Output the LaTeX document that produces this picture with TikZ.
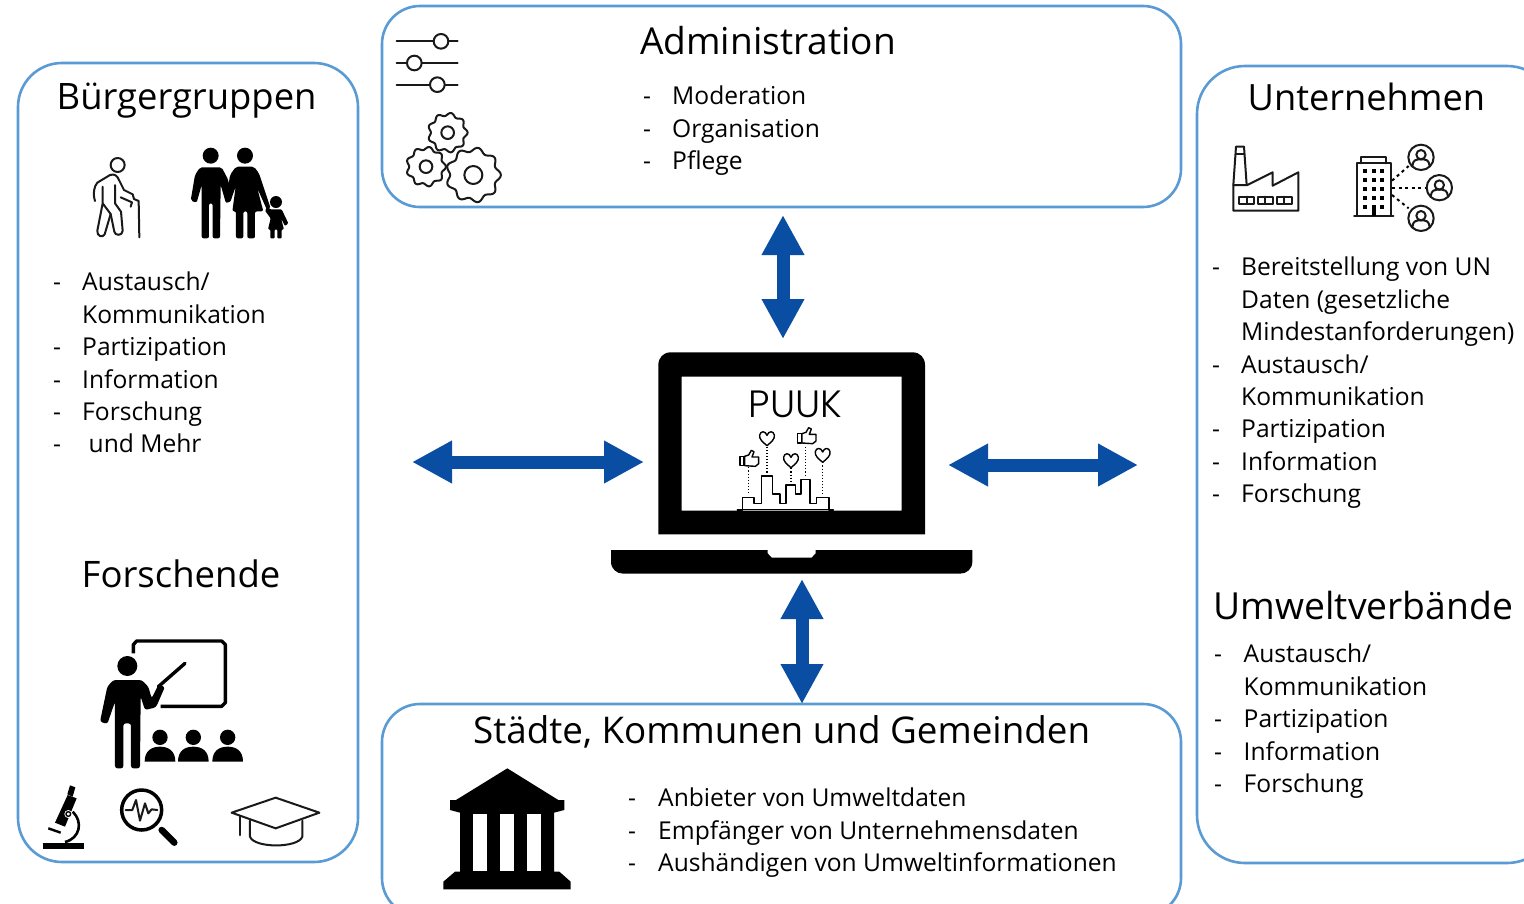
\documentclass[tikz,border=0pt]{standalone}
\usepackage{fontspec}
\setmainfont{Open Sans}
\newfontfamily\puukfont{Poppins Light}
\usetikzlibrary{arrows.meta}
\definecolor{panelblue}{HTML}{5B9BD5}
\definecolor{arrowblue}{HTML}{0A4EA3}
\newcommand{\tsize}[1]{\fontsize{#1}{44}\selectfont}
\tikzset{
  panel/.style={draw=panelblue,line width=2.6pt,inner sep=0pt},
  bodytext/.style={anchor=base west,inner sep=0pt,text=black,font=\fontsize{24.6}{30}\selectfont},
  titletext/.style={anchor=base west,inner sep=0pt,text=black},
  blockarrow/.style={draw=arrowblue,line width=13pt,{Triangle[length=40pt,width=40pt]}-{Triangle[length=40pt,width=40pt]},arrowblue},
  iconline/.style={draw=black!90,line width=2pt,line join=round,line cap=round},
  iconthin/.style={draw=black,line width=1.4pt,line join=round,line cap=round},
  zoomA/.style={shift={(#1)},scale=1/3}
}
\newcommand{\gearicon}[5]{% cx cy R hole teeth
  \draw[iconline,domain=0:360,samples=181,smooth] plot ({#1+#3*(1+.085*cos(#5*\x))*cos(\x)},{#2+#3*(1+.085*cos(#5*\x))*sin(\x)}) -- cycle;
  \draw[iconline] (#1,#2) circle (#4);}
\newcommand{\hearticon}[2]{%
  \draw[iconthin] (#1,#2+22) .. controls (#1-14,#2+10) and (#1-24,#2+2) .. (#1-22,#2-10) .. controls (#1-20,#2-22) and (#1-5,#2-24) .. (#1,#2-9) .. controls (#1+5,#2-24) and (#1+20,#2-22) .. (#1+22,#2-10) .. controls (#1+24,#2+2) and (#1+14,#2+10) .. (#1,#2+22) -- cycle;}
\newcommand{\thumbicon}[2]{%
  \draw[iconthin] (#1-28,#2-12) rectangle (#1-16,#2+16);
  \draw[iconthin] (#1-14,#2-12) -- (#1-2,#2-16) -- (#1+6,#2-30) -- (#1+14,#2-26) -- (#1+8,#2-10) -- (#1+28,#2-10) -- (#1+28,#2+10) -- (#1+18,#2+18) -- (#1-14,#2+16) -- cycle;}
\newcommand{\usericon}[2]{%
  \draw[iconline] (#1,#2) circle (38);
  \draw[iconline] (#1,#2-8) circle (14);
  \draw[iconline] (#1-26,#2+26) .. controls (#1-24,#2+8) and (#1-14,#2+6) .. (#1-8,#2+6) -- (#1+8,#2+6) .. controls (#1+14,#2+6) and (#1+24,#2+8) .. (#1+26,#2+26);}
\newcommand{\audience}[2]{%
  \fill (#1,#2) circle (23);
  \fill (#1-46,#2+73) .. controls (#1-46,#2+40) and (#1-25,#2+28) .. (#1,#2+28) .. controls (#1+25,#2+28) and (#1+46,#2+40) .. (#1+46,#2+73) -- cycle;}
\begin{document}
\begin{tikzpicture}[x=1pt,y=-1pt]
\useasboundingbox (0,0) rectangle (1524,903);
\clip (0,0) rectangle (1524,903);
\fill[white] (0,0) rectangle (1524,903);

% panels
\node[panel,rounded corners=44pt,minimum width=340pt,minimum height=799pt] (buerger) at (188,462.5) {};
\node[panel,rounded corners=38pt,minimum width=799pt,minimum height=201pt] (admin) at (781.5,106.5) {};
\node[panel,rounded corners=48pt,minimum width=358pt,minimum height=797pt] (unternehmen) at (1376,464.5) {};
\node[panel,rounded corners=38pt,minimum width=799pt,minimum height=212pt] (staedte) at (781.5,810) {};

% titles
\node[titletext,font=\tsize{36.4}] (tBuerger) at (56.5,109) {Bürgergruppen};
\node[titletext,font=\tsize{36.5}] (tForschende) at (81.5,587) {Forschende};
\node[titletext,font=\tsize{37.1}] (tAdmin) at (640,54) {Administration};
\node[titletext,font=\tsize{36.2}] (tUnternehmen) at (1247.5,110) {Unternehmen};
\node[titletext,font=\tsize{37.3}] (tUmwelt) at (1213.5,619) {Umweltverbände};
\node[titletext,font=\tsize{36.8}] (tStaedte) at (473,743.5) {Städte, Kommunen und Gemeinden};

% Buergergruppen list
\node[bodytext] (b0) at (53,290) {-};
\node[bodytext] (b1) at (82,290) {Austausch/};
\node[bodytext] (b2) at (82,323.5) {Kommunikation};
\node[bodytext] (b3d) at (53,355.5) {-};
\node[bodytext] (b3) at (82,355.5) {Partizipation};
\node[bodytext] (b4d) at (53,388.5) {-};
\node[bodytext] (b4) at (82,388.5) {Information};
\node[bodytext] (b5d) at (53,420.5) {-};
\node[bodytext] (b5) at (82,420.5) {Forschung};
\node[bodytext] (b6d) at (53,452.5) {-};
\node[bodytext] (b6) at (88.5,452.5) {und Mehr};

% Administration list
\node[bodytext] (a1d) at (643,104) {-};
\node[bodytext] (a1) at (672,104) {Moderation};
\node[bodytext] (a2d) at (643,137) {-};
\node[bodytext] (a2) at (672,137) {Organisation};
\node[bodytext] (a3d) at (643,169) {-};
\node[bodytext] (a3) at (672,169) {Pflege};

% Unternehmen list
\node[bodytext] (u1d) at (1212,275) {-};
\node[bodytext] (u1) at (1241,275) {Bereitstellung von UN};
\node[bodytext] (u2) at (1241,308) {Daten (gesetzliche};
\node[bodytext] (u3) at (1241,340) {Mindestanforderungen)};
\node[bodytext] (u4d) at (1212,373) {-};
\node[bodytext] (u4) at (1241,373) {Austausch/};
\node[bodytext] (u5) at (1241,405) {Kommunikation};
\node[bodytext] (u6d) at (1212,437) {-};
\node[bodytext] (u6) at (1241,437) {Partizipation};
\node[bodytext] (u7d) at (1212,470) {-};
\node[bodytext] (u7) at (1241,470) {Information};
\node[bodytext] (u8d) at (1212,502) {-};
\node[bodytext] (u8) at (1241,502) {Forschung};

% Umweltverbaende list
\node[bodytext] (v1d) at (1214,662) {-};
\node[bodytext] (v1) at (1243.5,662) {Austausch/};
\node[bodytext] (v2) at (1243.5,695) {Kommunikation};
\node[bodytext] (v3d) at (1214,727) {-};
\node[bodytext] (v3) at (1243.5,727) {Partizipation};
\node[bodytext] (v4d) at (1214,760) {-};
\node[bodytext] (v4) at (1243.5,760) {Information};
\node[bodytext] (v5d) at (1214,792) {-};
\node[bodytext] (v5) at (1243.5,792) {Forschung};

% Staedte list
\node[bodytext] (s1d) at (628,806) {-};
\node[bodytext] (s1) at (658,806) {Anbieter von Umweltdaten};
\node[bodytext] (s2d) at (628,839) {-};
\node[bodytext] (s2) at (658,839) {Empfänger von Unternehmensdaten};
\node[bodytext] (s3d) at (628,871) {-};
\node[bodytext] (s3) at (658,871) {Aushändigen von Umweltinformationen};

% sliders and gears
\begin{scope}[zoomA={380,0}]
  \draw[iconline] (50,124) -- (233,124);
  \draw[iconline] (50,189) -- (233,189);
  \draw[iconline] (50,254) -- (233,254);
  \draw[iconline,fill=white] (183,124) circle (22);
  \draw[iconline,fill=white] (103,189) circle (22);
  \draw[iconline,fill=white] (172,254) circle (22);
  \gearicon{203}{398}{55}{19}{9}
  \gearicon{138}{500}{55}{19}{9}
  \gearicon{280}{525}{76}{27}{9}
\end{scope}

% elderly person and family
\begin{scope}[zoomA={60,140}]
  \draw[iconline] (173,75) circle (21);
  \draw[iconline] (105,183) .. controls (98,160) and (102,140) .. (112,128) -- (150,105) .. controls (165,100) and (172,108) .. (178,122) -- (192,150) -- (218,163) -- (222,177) -- (236,183) -- (238,292);
  \draw[iconline] (182,172) -- (216,187) -- (212,200);
  \draw[iconline] (128,140) -- (128,190) -- (112,272) .. controls (110,288) and (128,295) .. (134,283) -- (152,222) -- (128,190);
  \draw[iconline] (165,135) -- (165,190) -- (183,215) -- (188,272) .. controls (188,288) and (165,288) .. (163,275) -- (152,222);
  \fill (452,47) circle (24);
  \fill (555,47) circle (24);
  \fill[rounded corners=2pt] (420,82) -- (485,82) -- (505,120) -- (515,182) -- (498,190) -- (482,135) -- (480,295) -- (458,295) -- (458,190) -- (447,190) -- (447,295) -- (425,295) -- (425,135) -- (410,188) -- (392,182) -- (405,105) -- cycle;
  \fill[rounded corners=2pt] (528,80) -- (582,80) -- (597,100) -- (632,205) -- (622,212) -- (592,145) -- (610,214) -- (585,214) -- (585,295) -- (562,295) -- (562,214) -- (550,214) -- (550,295) -- (528,295) -- (528,214) -- (517,214) -- (527,140) -- (510,188) -- (500,178) -- (510,105) -- cycle;
  \fill (648,186) circle (18);
  \fill[rounded corners=1pt] (630,208) -- (665,208) -- (685,250) -- (675,258) -- (663,235) -- (672,268) -- (665,268) -- (665,295) -- (652,295) -- (652,268) -- (644,268) -- (644,295) -- (631,295) -- (631,268) -- (624,268) -- (632,235) -- (615,212) -- (622,200) -- cycle;
\end{scope}

% teacher, microscope, magnifier, hat
\begin{scope}[zoomA={30,630}]
  \draw[line width=3.4pt,line join=round] (310,70) -- (310,44) -- (320,33) -- (575,33) -- (586,44) -- (586,218) -- (575,229) -- (392,229);
  \fill (292,108) circle (30);
  \fill[rounded corners=2.5pt] (250,150) -- (335,150) -- (355,170) -- (365,205) -- (385,165) -- (405,170) -- (378,232) -- (345,240) -- (332,200) -- (330,415) -- (303,415) -- (303,280) -- (280,280) -- (280,415) -- (255,415) -- (255,215) -- (232,282) -- (210,275) -- (232,170) -- cycle;
  \draw[line width=3.4pt,line cap=round] (385,170) -- (465,100);
  \audience{390}{322}
  \audience{490}{322}
  \audience{593}{322}
  % microscope
  \draw[line width=5.8pt] (38,648) -- (163,648);
  \draw[line width=2.6pt] (128,545) .. controls (160,575) and (150,625) .. (105,636);
  \fill (113,495) -- (140,505) -- (105,590) -- (75,578) -- cycle;
  \fill (120,466) -- (136,472) -- (128,500) -- (112,493) -- cycle;
  \draw[line width=2.4pt] (55,595) -- (92,608);
  \fill[white] (115,552) circle (12);
  \draw[line width=1.4pt] (115,552) circle (7);
  % magnifier
  \draw[line width=3.5pt] (335,540) circle (60);
  \draw[line width=6.5pt,line cap=round] (395,600) -- (433,638);
  \draw[iconline] (287,540) -- (307,540) -- (318,510) -- (330,572) -- (345,520) -- (355,550) -- (365,538) -- (382,540);
  % hat
  \draw[iconline] (605,548) -- (737,503) -- (868,548) -- (737,595) -- cycle;
  \draw[iconline] (630,560) -- (630,615);
  \draw[iconline] (660,572) -- (660,620) .. controls (672,655) and (805,655) .. (817,620) -- (817,572);
\end{scope}

% factory and office
\begin{scope}[zoomA={1220,140}]
  \draw[iconline] (40,135) -- (48,20) -- (72,20) -- (80,135);
  \draw[iconline] (48,42) -- (72,42);
  \draw[iconline] (40,135) -- (40,212) -- (235,212) -- (235,97) -- (158,137) -- (158,97) -- (82,135) -- cycle;
  \draw[iconline] (58,170) rectangle (102,192) (80,170) -- (80,192);
  \draw[iconline] (115,170) rectangle (158,192) (136,170) -- (136,192);
  \draw[iconline] (172,170) rectangle (215,192) (193,170) -- (193,192);
  \draw[iconline] (410,228) -- (410,70) -- (512,70) -- (512,228);
  \draw[iconline] (422,70) -- (422,52) -- (498,52) -- (498,70);
  \draw[iconline] (402,228) -- (520,228);
  \foreach \cx in {435,461,487} \foreach \cy in {94,120,147,173} \fill (\cx-6,\cy-6) rectangle (\cx+6,\cy+6);
  \fill (429,194) rectangle (441,206);
  \fill (481,194) rectangle (493,206);
  \fill (455,194) rectangle (467,228);
  \draw[line width=2pt,dash pattern=on 3pt off 3.5pt] (516,122) -- (566,78);
  \draw[line width=2pt,dash pattern=on 3pt off 3.5pt] (516,143) -- (616,143);
  \draw[line width=2pt,dash pattern=on 3pt off 3.5pt] (516,165) -- (566,205);
  \usericon{603}{52}
  \usericon{658}{143}
  \usericon{603}{235}
\end{scope}

% laptop
\begin{scope}[zoomA={600,345}]
  \fill[even odd rule] (175,568) -- (175,60) .. controls (175,38) and (190,22) .. (212,22) -- (938,22) .. controls (960,22) and (975,38) .. (975,60) -- (975,568) -- cycle (245,95) rectangle (905,497);
  \fill (33,615) -- (503,615) -- (503,625) -- (515,638) -- (635,638) -- (647,625) -- (647,615) -- (1117,615) -- (1117,650) .. controls (1117,672) and (1100,686) .. (1080,686) -- (70,686) .. controls (50,686) and (33,672) .. (33,650) -- cycle;
  \draw[iconthin] (412,495) -- (428,495) -- (428,457) -- (462,457) -- (462,475) -- (485,475) -- (485,393) -- (517,393) -- (517,447) -- (540,447) -- (540,475) -- (558,475) -- (558,420) -- (587,420) -- (587,447) -- (603,447) -- (603,403) -- (630,403) -- (630,475) -- (650,475) -- (650,457) -- (687,457) -- (687,495) -- (700,495);
  \draw[iconthin] (428,493) -- (687,493);
  \foreach \cx/\ya/\yb in {445/367/450,501/305/385,573/370/415,616/305/397,668/352/450}
    \draw[line width=1.1pt,dotted] (\cx,\ya) -- (\cx,\yb);
  \hearticon{501}{280}
  \hearticon{573}{346}
  \hearticon{668}{330}
  \thumbicon{448}{346}
  \thumbicon{620}{278}
\end{scope}
\node[anchor=base,inner sep=0pt,font=\puukfont\fontsize{38}{46}\selectfont] (puuk) at (795.5,417) {PUUK};

% bank
\begin{scope}[zoomA={430,760}]
  \fill (232,25) -- (385,120) -- (403,120) -- (403,150) -- (372,158) -- (372,335) -- (388,335) -- (422,365) -- (422,388) -- (40,388) -- (40,365) -- (75,335) -- (90,335) -- (90,158) -- (60,150) -- (60,120) -- (78,120) -- cycle;
  \fill[white] (130,162) rectangle (172,333);
  \fill[white] (210,162) rectangle (252,333);
  \fill[white] (292,162) rectangle (334,333);
\end{scope}

% connector ends
\coordinate (topA) at (783,215);
\coordinate (topB) at (783,339);
\coordinate (leftA) at (412,462);
\coordinate (leftB) at (644,462);
\coordinate (rightA) at (948,465);
\coordinate (rightB) at (1138,465);
\coordinate (botA) at (802,579);
\coordinate (botB) at (802,704);
\draw[blockarrow] (topA) -- (topB);
\draw[blockarrow] (leftA) -- (leftB);
\draw[blockarrow] (rightA) -- (rightB);
\draw[blockarrow] (botA) -- (botB);
\end{tikzpicture}
\end{document}
